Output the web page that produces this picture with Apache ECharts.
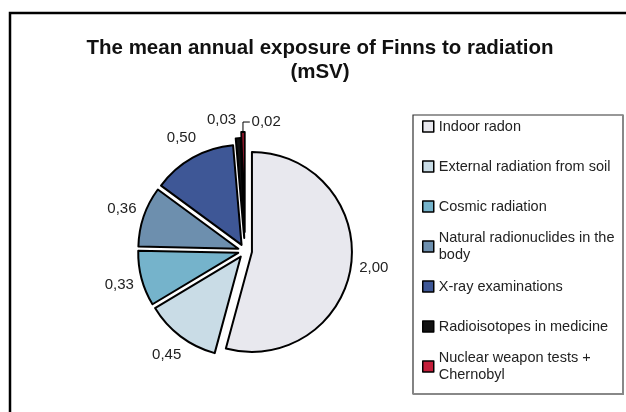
<!DOCTYPE html>
<html>
<head>
<meta charset="utf-8">
<script src="https://cdn.jsdelivr.net/npm/echarts@6/dist/echarts.min.js"></script>
<style>
    html, body { margin: 0; padding: 0; background: #fff; }
    #chart1 { width: 626px; height: 412px; }
</style>
</head>
<body>
<div id="chart1"></div>
<script>
// data
var categories = ['Indoor radon', 'External radiation from soil', 'Cosmic radiation',
    'Natural radionuclides in the\nbody', 'X-ray examinations', 'Radioisotopes in medicine',
    'Nuclear weapon tests +\nChernobyl'];
var doses = [2.00, 0.45, 0.33, 0.36, 0.50, 0.03, 0.02];
var titleText = 'The mean annual exposure of Finns to radiation\n(mSV)';

var colors = ['#e8e8ee', '#c9dce6', '#75b3cb', '#6d8fae', '#3e5796', '#111111', '#c41e3a'];
var explode = [7, 7, 7, 7, 7, 13, 19];
var font = "'Liberation Sans', Arial, sans-serif";

function fmt(v) {
    return v.toFixed(2).replace('.', ',');
}

function sliceStyle(i, visible) {
    if (!visible) {
        return { color: 'rgba(0,0,0,0)', borderWidth: 0 };
    }
    return { color: colors[i], borderColor: '#000', borderWidth: 2 };
}

function labelStyle(v) {
    return {
        show: true,
        position: 'outside',
        formatter: fmt(v),
        color: '#222',
        fontFamily: font,
        fontSize: 15
    };
}

// one pie per explode distance, other slices left transparent
function pieSeries(offset) {
    return {
        type: 'pie',
        center: [245, 251],
        radius: 100,
        startAngle: 90,
        selectedMode: 'multiple',
        selectedOffset: offset,
        avoidLabelOverlap: false,
        silent: true,
        emphasis: { disabled: true },
        label: { show: false },
        labelLine: { show: false },
        data: doses.map(function (v, i) {
            var vis = explode[i] === offset;
            var st = sliceStyle(i, vis);
            var item = {
                name: categories[i],
                value: v,
                selected: true,
                itemStyle: st,
                select: { itemStyle: st }
            };
            // the two thin slices carry their own labels
            if (vis && i === 5) {
                item.label = labelStyle(v);
                item.label.distanceToLabelLine = 1;
                item.labelLine = { show: false, length: 18, length2: 0 };
            }
            if (vis && i === 6) {
                // negative length2 / distance turn the leader line to the right
                item.label = labelStyle(v);
                item.label.distanceToLabelLine = -31;
                item.labelLine = {
                    show: true,
                    length: 10,
                    length2: -7,
                    lineStyle: { color: '#000', width: 1 }
                };
            }
            return item;
        })
    };
}

function chart1() {
    var myChart = echarts.init(document.getElementById('chart1'));
    var series = [pieSeries(7), pieSeries(13), pieSeries(19)];

    // value labels: invisible wider pie so the labels sit at a fixed radius
    series.push({
        type: 'pie',
        center: [245, 251],
        radius: 240,
        startAngle: 90,
        selectedMode: 'multiple',
        selectedOffset: 7,
        avoidLabelOverlap: false,
        silent: true,
        emphasis: { disabled: true },
        z: 1,
        labelLine: { show: false },
        data: doses.map(function (v, i) {
            var st = { color: 'rgba(0,0,0,0)', borderWidth: 0 };
            return {
                name: categories[i],
                value: v,
                selected: true,
                itemStyle: st,
                select: { itemStyle: st },
                label: {
                    show: i < 5,
                    position: 'inside',
                    formatter: fmt(v),
                    color: '#222',
                    fontFamily: font,
                    fontSize: 15
                }
            };
        })
    });

    option = {
        animation: false,
        backgroundColor: '#fff',
        title: {
            text: titleText,
            left: 320,
            top: 36,
            padding: 0,
            textAlign: 'center',
            textStyle: {
                fontFamily: font,
                fontWeight: 'bold',
                fontSize: 20.5,
                lineHeight: 24,
                color: '#111'
            }
        },
        legend: {
            orient: 'vertical',
            left: 422,
            top: 101,
            padding: 0,
            itemGap: -11,
            itemWidth: 11,
            itemHeight: 11,
            icon: 'rect',
            selectedMode: false,
            itemStyle: { borderColor: '#000', borderWidth: 1.5 },
            textStyle: {
                fontFamily: font,
                fontSize: 14.5,
                lineHeight: 17,
                color: '#222',
                padding: [17, 0, 17, 0]
            },
            data: categories.map(function (c, i) {
                var two = c.indexOf('\n') >= 0;
                return {
                    name: c,
                    itemStyle: { color: colors[i] },
                    textStyle: { padding: two ? [17, 0, 0, 0] : [17, 0, 17, 0] }
                };
            })
        },
        graphic: [
            {
                type: 'rect',
                z: -1,
                shape: { x: 10, y: 13, width: 700, height: 500 },
                style: { fill: null, stroke: '#000', lineWidth: 2.5 }
            },
            {
                type: 'rect',
                z: -1,
                shape: { x: 413, y: 115, width: 210, height: 279 },
                style: { fill: null, stroke: '#333', lineWidth: 1.2 }
            },
            {
                type: 'polyline',
                z: -1,
                shape: { points: [[623, 115], [623, 394], [413, 394]] },
                style: { stroke: '#888', lineWidth: 2 }
            }
        ],
        series: series
    };
    myChart.setOption(option);
}

chart1();
</script>
</body>
</html>
